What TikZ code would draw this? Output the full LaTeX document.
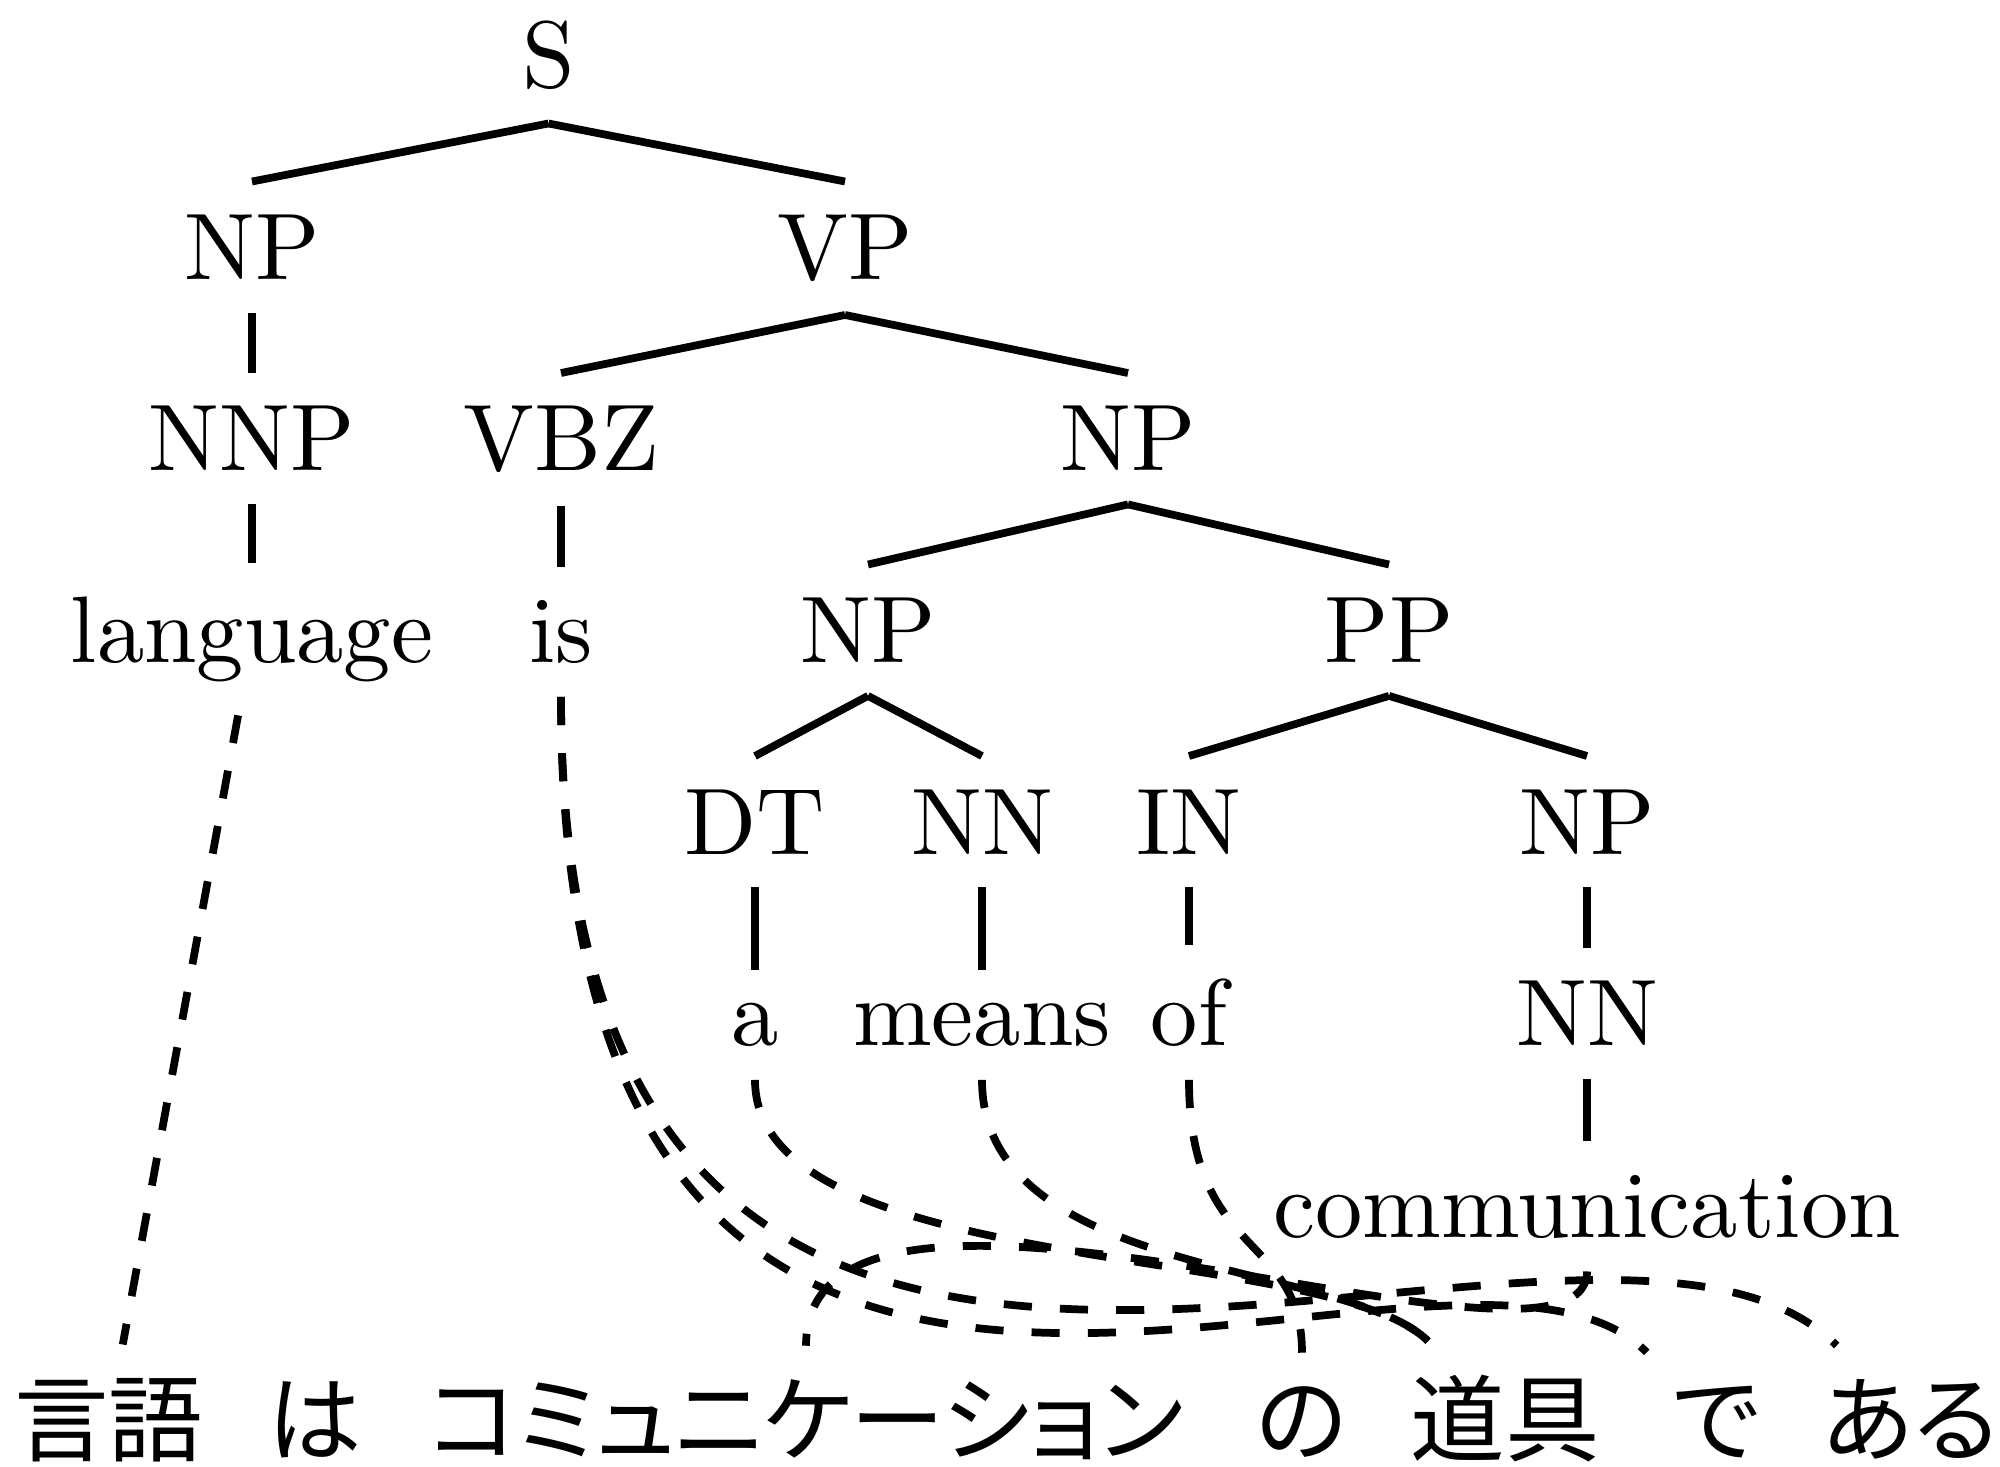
\documentclass[tikz,border=0pt]{standalone}
\usepackage{fontspec}
\newfontfamily\jpfont{Noto Sans CJK JP}[RawFeature=+palt]
\usepackage{tikz}

\tikzset{
  word/.style={anchor=base, scale=2.69},
  jword/.style={anchor=base, scale=2.69, font=\jpfont},
  treeline/.style={line width=2.2pt},
  alignlink/.style={line width=2.2pt, dash pattern=on 8pt off 8pt},
}

\begin{document}
\begin{tikzpicture}
            \useasboundingbox (0,0) rectangle (20,-14.67);

            % english parse tree
            \node[word] (S) at (5.485, -0.88) {S};
            \node[word] (NP1) at (2.52, -2.795) {NP};
            \node[word] (VP) at (8.45, -2.795) {VP};
            \node[word] (NNP) at (2.52, -4.71) {NNP};
            \node[word] (VBZ) at (5.61, -4.71) {VBZ};
            \node[word] (NP2) at (11.28, -4.71) {NP};
            \node[word] (language) at (2.52, -6.625) {language};
            \node[word] (is) at (5.61, -6.625) {is};
            \node[word] (NP3) at (8.68, -6.625) {NP};
            \node[word] (PP) at (13.89, -6.625) {PP};
            \node[word] (DT) at (7.55, -8.54) {DT};
            \node[word] (NN1) at (9.82, -8.54) {NN};
            \node[word] (IN) at (11.89, -8.54) {IN};
            \node[word] (NP4) at (15.87, -8.54) {NP};
            \node[word] (a) at (7.55, -10.455) {a};
            \node[word] (means) at (9.82, -10.455) {means};
            \node[word] (of) at (11.89, -10.455) {of};
            \node[word] (NN2) at (15.87, -10.455) {NN};
            \node[word] (comm) at (15.87, -12.37) {communication};

            % japanese sentence
            \node[jword] (gengo) at (1.09, -14.54) {言語};
            \node[jword] (wa) at (3.15, -14.54) {は};
            \node[jword] (komyu) at (8.06, -14.54) {コミュニケーション};
            \node[jword] (no) at (13.02, -14.54) {の};
            \node[jword] (dougu) at (15.05, -14.54) {道具};
            \node[jword] (de) at (17.16, -14.54) {で};
            \node[jword] (aru) at (19.10, -14.54) {ある};

            \path [treeline] (S.south) edge (NP1.north);
            \path [treeline] (S.south) edge (VP.north);

            \path [treeline] (NP1.south) edge (NNP.north);
            \path [treeline] (NNP.south) edge (language.north);

            \path [treeline] (VP.south) edge (VBZ.north);
            \path [treeline] (VP.south) edge (NP2.north);
            \path [treeline] (VBZ.south) edge (is.north);

            \path [treeline] (NP2.south) edge (NP3.north);
            \path [treeline] (NP2.south) edge (PP.north);

            \path [treeline] (NP3.south) edge (DT.north);
            \path [treeline] (NP3.south) edge (NN1.north);
            \path [treeline] (DT.south) edge (a.north);
            \path [treeline] (NN1.south) edge (means.north);

            \path [treeline] (PP.south) edge (IN.north);
            \path [treeline] (PP.south) edge (NP4.north);
            \path [treeline] (IN.south) edge (of.north);
            \path [treeline] (NP4.south) edge (NN2.north);
            \path [treeline] (NN2.south) edge (comm.north);

            % word alignment
            \draw [alignlink] (language) -- (gengo);
            \draw [alignlink] (is.south) .. controls +(0,-10.2) and +(-2.0,2.0) .. (de.135);
            \draw [alignlink] (is.south) .. controls +(0,-10.2) and +(-2.5,2.5) .. (aru.135);
            \draw [alignlink] (a.south) .. controls +(0,-2.0) and +(-1.0,1.0) .. (dougu.135);
            \draw [alignlink] (means.south) .. controls +(0,-2.0) and +(-0.8,0.8) .. (dougu.135);
            \draw [alignlink] (of.south) .. controls +(0,-1.8) and +(0,1.2) .. (no.north);
            \draw [alignlink] (comm.south) .. controls +(0,-1.4) and +(0,2.5) .. (komyu.north);
\end{tikzpicture}
\end{document}
